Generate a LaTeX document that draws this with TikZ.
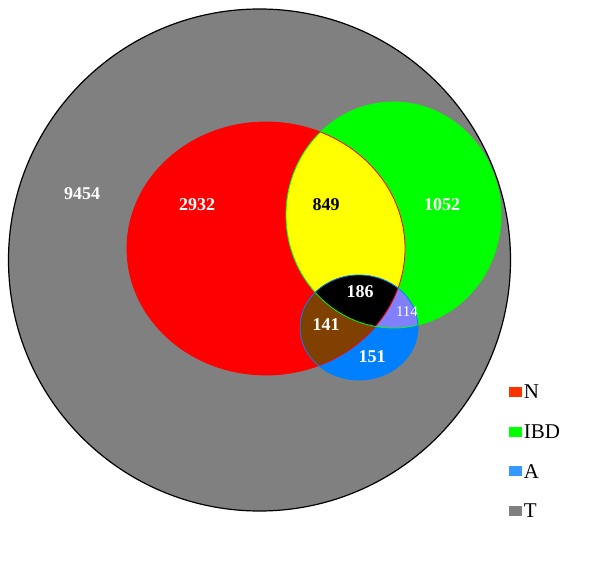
\documentclass[tikz,border=0pt]{standalone}
\usepackage{fontspec}
\setmainfont{Liberation Serif}
\definecolor{tgray}{RGB}{128,128,128}
\definecolor{nred}{RGB}{255,0,0}
\definecolor{ibdgreen}{RGB}{0,255,0}
\definecolor{ablue}{RGB}{0,128,255}
\definecolor{nibdyellow}{RGB}{255,255,0}
\definecolor{nabrown}{RGB}{128,64,0}
\definecolor{ibdaviolet}{RGB}{128,128,255}
\definecolor{keyred}{RGB}{255,51,0}
\definecolor{keyblue}{RGB}{51,153,255}
\begin{document}
\begin{tikzpicture}[x=1pt,y=-1pt, line join=round,
	setT/.style={radius=251pt},
	setN/.style={x radius=139pt,y radius=126.5pt},
	setG/.style={x radius=107.5pt,y radius=113pt},
	setA/.style={x radius=59pt,y radius=52.5pt},
	num/.style={font=\fontsize{18}{20}\selectfont\bfseries,text=white,inner sep=0pt},
	keybox/.style={minimum width=13pt,minimum height=10pt,inner sep=0pt},
	keytext/.style={font=\fontsize{21}{23}\selectfont,anchor=west,inner sep=0pt}]
	\useasboundingbox (0,0) rectangle (600,561);
	\coordinate (cT) at (259.5,260);
	\coordinate (cN) at (266,248.5);
	\coordinate (cG) at (393.5,215);
	\coordinate (cA) at (359,327.5);
	% sets
	\filldraw[fill=tgray,draw=black,line width=1.2pt] (cT) circle[setT];
	\fill[nred] (cN) ellipse[setN];
	\fill[ibdgreen] (cG) ellipse[setG];
	\begin{scope}
		\clip (cN) ellipse[setN];
		\fill[nibdyellow] (cG) ellipse[setG];
	\end{scope}
	\fill[ablue] (cA) ellipse[setA];
	\begin{scope}
		\clip (cA) ellipse[setA];
		\fill[nabrown] (cN) ellipse[setN];
		\fill[ibdaviolet] (cG) ellipse[setG];
		\clip (cN) ellipse[setN];
		\fill[black] (cG) ellipse[setG];
	\end{scope}
	\draw[nred,line width=0.8pt] (cN) ellipse[setN];
	\draw[ibdgreen,line width=0.8pt] (cG) ellipse[setG];
	\draw[ablue,line width=0.8pt] (cA) ellipse[setA];
	% counts
	\node[num] (n9454) at (82,194) {9454};
	\node[num] (n2932) at (197,205) {2932};
	\node[num,text=black] (n849) at (326,205) {849};
	\node[num] (n1052) at (442,205) {1052};
	\node[num] (n186) at (360,292) {186};
	\node[num,font=\fontsize{15}{17}\selectfont] (n114) at (407,312) {114};
	\node[num] (n141) at (326,325) {141};
	\node[num] (n151) at (372,357) {151};
	% legend
	\foreach \lab/\col [count=\i] in {N/keyred,IBD/ibdgreen,A/keyblue,T/tgray}{
		\node[keybox,fill=\col] (key\i) at (515.5,{392+39.7*(\i-1)}) {};
		\node[keytext] (lab\i) at ([xshift=1.5pt]key\i.east) {\lab};
	}
\end{tikzpicture}
\end{document}
